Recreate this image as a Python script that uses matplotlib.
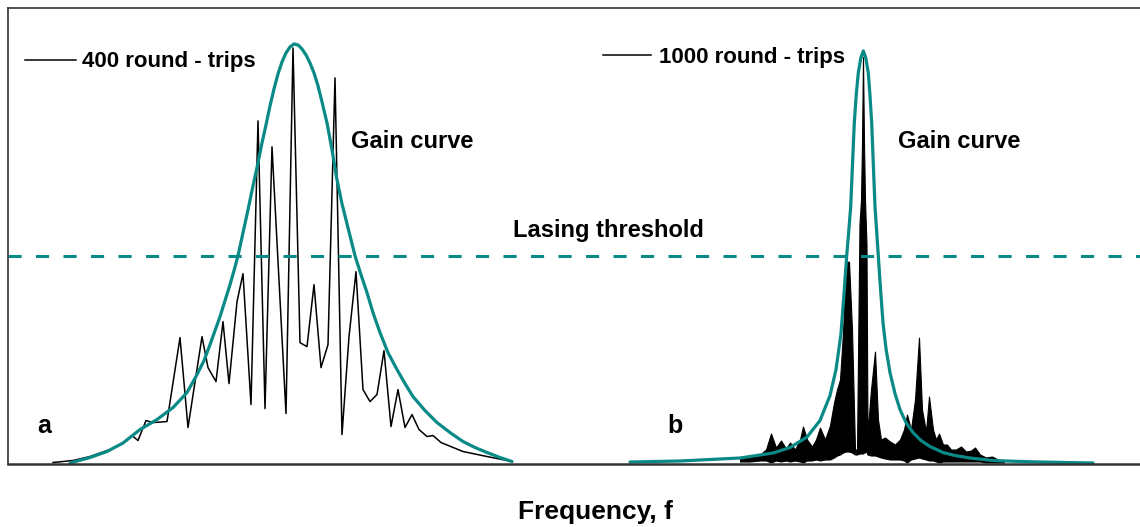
import numpy as np
import matplotlib
matplotlib.use("Agg")
import matplotlib.pyplot as plt

plt.rcParams["font.family"] = ["Liberation Sans", "DejaVu Sans"]
plt.rcParams["font.weight"] = "bold"

TEAL = "#0a8a87"

# --- panel a: 400 round-trips (frequency, intensity) ---
a_freq = [53, 73, 90, 110, 123, 132, 138, 146, 153, 167, 180, 188, 202, 208, 216, 223,
          229, 237, 243, 251, 258, 265, 272, 286, 293, 300, 307, 314, 321, 328, 335, 342,
          349, 356, 363, 370, 377, 384, 391, 398, 405, 412, 419, 427, 433, 441, 463, 487, 512]
a_int = [1, 3, 7, 14, 20, 28, 23, 43, 41, 42, 126, 36, 127, 96, 82, 142,
         80, 162, 190, 59, 343, 55, 317, 50, 416, 121, 117, 179, 96, 119, 386, 29,
         127, 192, 74, 62, 69, 113, 37, 74, 36, 49, 34, 27, 28, 21, 12, 7, 2]

a_gain_freq = [70, 90, 107, 123, 140, 157, 173, 187, 197, 204, 210, 215, 220, 225, 230, 234,
               238, 243, 248, 253, 258, 262, 266, 270, 274, 278, 282, 286, 290, 294, 298,
               302, 306, 310, 314, 318, 322, 327, 332, 337, 342, 346, 350, 355, 361, 367,
               373, 380, 388, 397, 405, 413, 425, 437, 450, 463, 475, 487, 500, 512]
a_gain = [0.5, 6, 12, 20.5, 34, 44, 56, 71, 89, 103, 119, 133, 147, 163, 179, 193,
          208, 231, 254, 278, 301, 321, 339, 358, 375, 390, 402, 411, 417, 420, 419,
          415, 409, 401, 391, 378, 362, 341, 314, 284, 260, 244, 228, 208, 189, 171,
          151, 131, 111, 94, 80, 67, 53, 41, 31, 22, 16, 11, 6, 2]

# --- panel b: 1000 round-trips, dense spectrum given as upper / lower envelope ---
b_freq = [740, 750, 760, 766, 771, 776, 781, 786, 790, 795, 800, 803, 807, 812, 816, 820,
          825, 830, 834, 837, 840, 843, 846, 849, 852, 855, 857, 859.5, 861, 862, 863, 864,
          865, 866.5, 867.5, 871, 875, 878, 881, 885, 890, 895, 900, 904, 907, 911, 915,
          919, 922, 926, 929, 933, 936, 939, 943, 947, 951, 956, 961, 966, 971, 975, 980,
          986, 992, 998, 1004]
b_upper = [5, 7, 9, 14, 30, 16, 23, 15, 21, 14, 24, 37, 24, 17, 24, 36,
           24, 38, 61, 74, 84, 131, 202, 202, 134, 14, 14, 240, 264, 321, 407, 321,
           264, 219, 30, 74, 112, 44, 24, 26, 22, 19, 24, 34, 49, 34, 64,
           126, 54, 32, 67, 34, 24, 30, 19, 19, 14, 14, 17, 12, 13, 16, 9,
           6, 7, 4, 2]
b_lower = [2, 2, 3, 3, 1, 3, 2, 3, 2, 3, 2, 1, 3, 3, 4, 3,
           4, 4, 6, 8, 9, 11, 12, 12, 11, 9, 9, 10, 10, 10, 10, 11,
           11, 12, 9, 8, 8, 7, 6, 5, 4, 4, 4, 3, 1, 4, 5,
           6, 5, 4, 3, 3, 2, 1, 2, 2, 2, 2, 2, 2, 2, 2, 2,
           1, 1, 1, 1]

b_gain_freq = [630, 680, 740, 773, 790, 807, 820, 830, 836, 841, 844, 846.7, 848.7, 850.7,
               852.5, 854.3, 856.3, 858.3, 860.8, 863.3, 865.8, 868.3, 870, 871.7, 873.3,
               875, 876.7, 878.3, 880.5, 883, 886, 890, 895, 900, 906, 913, 921, 930, 943,
               955, 970, 993, 1015, 1040, 1065, 1093]
b_gain = [1.5, 2.5, 5.5, 10.5, 16, 26.5, 43, 68, 94, 130, 170, 208, 232, 257,
          300, 341, 370, 391, 406, 413, 406, 391, 368, 341, 300,
          257, 232, 208, 175, 141, 115, 91, 70, 54, 41, 31, 23, 17, 11,
          8, 5.5, 3, 2.2, 1.5, 1, 0.5]

threshold = 208

fig = plt.figure(figsize=(11.4, 5.27), dpi=100)
ax = fig.add_axes([8 / 1140, 63 / 527, 1140 / 1140, 456 / 527])
ax.set_xlim(8, 1148)
ax.set_ylim(-0.5, 456)

ax.plot(a_freq, a_int, color="black", lw=1.1)
ax.fill_between(b_freq, b_lower, b_upper, color="black", lw=0.8)
ax.plot(a_gain_freq, a_gain, color=TEAL, lw=2.3, solid_capstyle="round")
ax.plot(b_gain_freq, b_gain, color=TEAL, lw=2.3, solid_capstyle="round")
ax.axhline(threshold, color=TEAL, lw=2.2, dashes=(4.3, 4.7))

# legend-like labels
ax.plot([25, 76], [404, 404], color="black", lw=1.1)
ax.text(82, 397, "400 round - trips", fontsize=16, va="baseline")
ax.plot([603, 651], [409, 409], color="black", lw=1.1)
ax.text(659, 401, "1000 round - trips", fontsize=16, va="baseline")

ax.text(351, 316, "Gain curve", fontsize=17, va="baseline")
ax.text(898, 316, "Gain curve", fontsize=17, va="baseline")
ax.text(513, 227, "Lasing threshold", fontsize=17, va="baseline")
ax.text(37, 31, "a", fontsize=18, va="baseline")
ax.text(667, 31, "b", fontsize=18, va="baseline")

fig.text(518 / 1140, (527 - 519) / 527, "Frequency, f", fontsize=19,
         fontweight="bold", va="baseline")

ax.set_xticks([]); ax.set_yticks([])
for s in ["top", "left"]:
    ax.spines[s].set_color("#333333"); ax.spines[s].set_linewidth(1.2)
ax.spines["bottom"].set_color("#333333"); ax.spines["bottom"].set_linewidth(1.8)
ax.spines["right"].set_visible(False)

fig.savefig("out.png", dpi=100)
